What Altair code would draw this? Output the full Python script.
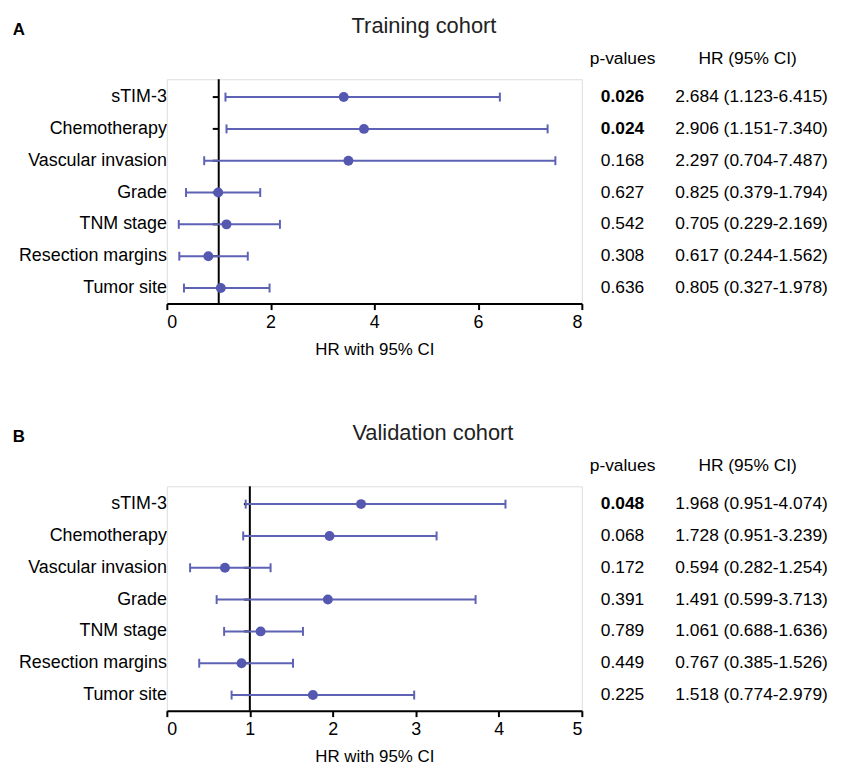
import altair as alt
import pandas as pd

# ---------------- data ----------------
categories = ["sTIM-3", "Chemotherapy", "Vascular invasion", "Grade",
              "TNM stage", "Resection margins", "Tumor site"]

# Training cohort
train_point = [3.41, 3.80, 3.50, 0.99, 1.15, 0.80, 1.04]
train_low = [1.13, 1.15, 0.72, 0.37, 0.23, 0.24, 0.33]
train_high = [6.42, 7.34, 7.49, 1.80, 2.18, 1.56, 1.98]
train_p = ["0.026", "0.024", "0.168", "0.627", "0.542", "0.308", "0.636"]
train_bold = [True, True, False, False, False, False, False]
train_hr = ["2.684 (1.123-6.415)", "2.906 (1.151-7.340)", "2.297 (0.704-7.487)",
            "0.825 (0.379-1.794)", "0.705 (0.229-2.169)", "0.617 (0.244-1.562)",
            "0.805 (0.327-1.978)"]
train_ticks = [0, 2, 4, 6, 8]

# Validation cohort
valid_point = [2.34, 1.96, 0.70, 1.94, 1.13, 0.90, 1.76]
valid_low = [0.95, 0.92, 0.28, 0.60, 0.69, 0.39, 0.78]
valid_high = [4.08, 3.25, 1.25, 3.72, 1.64, 1.52, 2.98]
valid_p = ["0.048", "0.068", "0.172", "0.391", "0.789", "0.449", "0.225"]
valid_bold = [True, False, False, False, False, False, False]
valid_hr = ["1.968 (0.951-4.074)", "1.728 (0.951-3.239)", "0.594 (0.282-1.254)",
            "1.491 (0.599-3.713)", "1.061 (0.688-1.636)", "0.767 (0.385-1.526)",
            "1.518 (0.774-2.979)"]
valid_ticks = [0, 1, 2, 3, 4, 5]

FONT = "Liberation Sans"
LINE_COLOR = "#5e62b5"
POINT_COLOR = "#5558b0"
W, H = 418, 226


def panel(title, letter, point, low, high, pvals, bold, hrs, xmax, ticks, title_x):
    df = pd.DataFrame({
        "idx": list(range(len(categories))),
        "cat": categories,
        "point": point,
        "low": low,
        "high": high,
        "p": pvals,
        "bold": bold,
        "hr": hrs,
    })
    one = pd.DataFrame({"a": [0]})

    xscale = alt.Scale(domain=[0, xmax], nice=False, zero=False)
    yscale = alt.Scale(domain=[-0.56, 6.49], reverse=True, nice=False, zero=False)

    xaxis = alt.Axis(values=ticks, format="d", title="HR with 95% CI", grid=False,
                     domainColor="black", domainWidth=2, tickColor="black",
                     tickWidth=2, tickSize=6, labelFont=FONT, labelFontSize=18,
                     labelColor="black", labelPadding=4, titleFont=FONT,
                     titleFontSize=17, titleFontWeight="normal", titleColor="black",
                     titlePadding=10)

    base = alt.Chart(df)

    # row ticks at x = 1 (left side of the reference line)
    rowticks = base.mark_rule(color="black", strokeWidth=2, x2Offset=-6).transform_calculate(
        one_x="1"
    ).encode(
        x=alt.X("one_x:Q", scale=xscale, axis=xaxis),
        x2="one_x:Q",
        y=alt.Y("idx:Q", scale=yscale, axis=None),
    )

    vline = alt.Chart(one).mark_rule(color="black", strokeWidth=2).encode(
        x=alt.datum(1, scale=xscale)
    )

    bars = base.mark_rule(color=LINE_COLOR, strokeWidth=2).encode(
        x="low:Q", x2="high:Q", y="idx:Q"
    )
    cap_lo = base.mark_rule(color=LINE_COLOR, strokeWidth=2,
                            yOffset=-4.5, y2Offset=4.5).encode(
        x="low:Q", y="idx:Q", y2="idx:Q"
    )
    cap_hi = base.mark_rule(color=LINE_COLOR, strokeWidth=2,
                            yOffset=-4.5, y2Offset=4.5).encode(
        x="high:Q", y="idx:Q", y2="idx:Q"
    )
    pts = base.mark_circle(color=POINT_COLOR, size=100, opacity=1).encode(
        x="point:Q", y="idx:Q"
    )

    # category labels
    cat_lbl = base.mark_text(font=FONT, fontSize=18, color="black", baseline="middle",
                             align="right").encode(
        x=alt.value(0), y="idx:Q", text="cat:N"
    )

    txt = dict(font=FONT, fontSize=17.5, color="black", baseline="middle", align="center")
    p_norm = base.transform_filter("!datum.bold").mark_text(**txt).encode(
        x=alt.value(459), y="idx:Q", text="p:N"
    )
    p_bold = base.transform_filter("datum.bold").mark_text(fontWeight="bold", **txt).encode(
        x=alt.value(459), y="idx:Q", text="p:N"
    )
    hr_txt = base.mark_text(**txt).encode(x=alt.value(589), y="idx:Q", text="hr:N")

    head_p = alt.Chart(one).mark_text(text="p-values", **txt).encode(
        x=alt.value(459), y=alt.value(-20))
    head_hr = alt.Chart(one).mark_text(text="HR (95% CI)", **txt).encode(
        x=alt.value(585), y=alt.value(-20))
    ttl = alt.Chart(one).mark_text(text=title, font=FONT, fontSize=22, color="#222222",
                                   baseline="middle", align="center").encode(
        x=alt.value(title_x), y=alt.value(-54))
    let = alt.Chart(one).mark_text(text=letter, font=FONT, fontSize=17, fontWeight="bold",
                                   color="black", baseline="middle", align="center").encode(
        x=alt.value(-149), y=alt.value(-50))

    return alt.layer(rowticks, vline, bars, cap_lo, cap_hi, pts, cat_lbl,
                     p_norm, p_bold, hr_txt, head_p, head_hr, ttl, let).properties(
        width=W, height=H)


a = panel("Training cohort", "A", train_point, train_low, train_high, train_p,
          train_bold, train_hr, 8, train_ticks, 259)
b = panel("Validation cohort", "B", valid_point, valid_low, valid_high, valid_p,
          valid_bold, valid_hr, 5, valid_ticks, 268)

chart = alt.vconcat(a, b, spacing=63).properties(
    padding={"left": 4, "top": 3, "right": 5, "bottom": 0}
).configure_view(strokeWidth=0).configure(background="white")

chart.save("out.html", embed_options={"renderer": "svg", "actions": False})
